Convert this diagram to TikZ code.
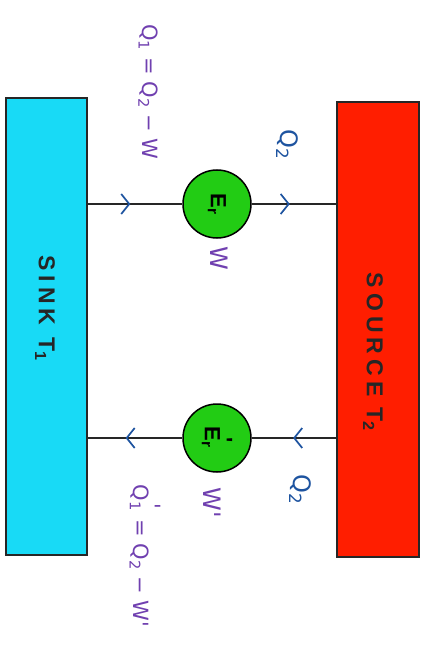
\documentclass[tikz,border=0pt]{standalone}
\usepackage{fontspec}
\setmainfont{Liberation Sans}
\newfontfamily\boxfont[LetterSpace=22]{Liberation Sans}
\newfontfamily\handfont{DejaVu Sans}
\usetikzlibrary{arrows.meta,decorations.markings}
\definecolor{sinkcol}{RGB}{24,218,246}
\definecolor{srccol}{RGB}{255,30,0}
\definecolor{engcol}{RGB}{34,204,20}
\definecolor{hpurple}{RGB}{112,64,176}
\definecolor{hblue}{RGB}{30,84,160}
\tikzset{
  reservoir/.style={draw=black!85, line width=1.6pt, inner sep=0pt},
  boxlabel/.style={rotate=-90, font=\boxfont\bfseries\fontsize{23}{26}\selectfont, text=black!85, inner sep=0pt},
  engine/.style={circle, draw=black, line width=1.5pt, fill=engcol, minimum size=68pt, inner sep=0pt},
  enginelbl/.style={rotate=-90, inner sep=0pt, font=\bfseries\fontsize{22}{25}\selectfont},
  hand/.style={rotate=-90, inner sep=0pt, font=\handfont\fontsize{21}{24}\selectfont},
  bighand/.style={hand, font=\handfont\fontsize{24}{28}\selectfont},
  conn/.style={draw=black!85, line width=1.4pt},
  flow/.style={postaction={decorate}, decoration={markings,
      mark=at position #1 with {\arrow[hblue, line width=1.7pt]{Straight Barb[length=8pt,width=20pt]}}}}
}
\begin{document}
\begin{tikzpicture}[x=1pt,y=-1pt]
\useasboundingbox[fill=white] (0,0) rectangle (429,650);
% reservoirs
\node[reservoir, fill=sinkcol, minimum width=81pt, minimum height=457pt] (sink) at (46.5,326.5) {};
\node[reservoir, fill=srccol, minimum width=82pt, minimum height=455pt] (source) at (378,329.5) {};
\node[boxlabel] (sinklbl) at (45,308) {SINK T\textsubscript{1}};
\node[boxlabel] (srclbl) at (373,352) {SOURCE T\textsubscript{2}};
% engines
\node[engine] (e1) at (217,204) {};
\node[enginelbl] (e1lbl) at (e1.center) {E\textsubscript{r}};
\node[engine] (e2) at (217,438) {};
\node[enginelbl] (e2lbl) at (e2.center) {E\textsubscript{r}\kern-0.45em\raisebox{0.55em}{\textquotesingle}\kern0.3em};
% connectors
\draw[conn, flow=0.45] (sink.east |- e1) -- (e1.west);
\draw[conn, flow=0.45] (e1.east) -- (source.west |- e1);
\draw[conn, flow=0.51] (source.west |- e2) -- (e2.east);
\draw[conn, flow=0.6] (e2.west) -- (sink.east |- e2);
% labels
\node[hand, text=hpurple] (q1) at (148,92) {Q\textsubscript{1} = Q\textsubscript{2} − W};
\node[bighand, text=hblue] (q2a) at (287,145) {Q\textsubscript{2}};
\node[bighand, text=hpurple] (w) at (219,258) {W};
\node[bighand, text=hpurple] (w2) at (212,503) {W\textquotesingle};
\node[bighand, text=hblue] (q2b) at (300,490) {Q\textsubscript{2}};
\node[hand, text=hpurple] (q1p) at (145,556) {Q\textsubscript{1}\kern-0.35em\raisebox{0.55em}{\textquotesingle}\kern0.15em{} = Q\textsubscript{2} − W\textquotesingle};
\end{tikzpicture}
\end{document}
